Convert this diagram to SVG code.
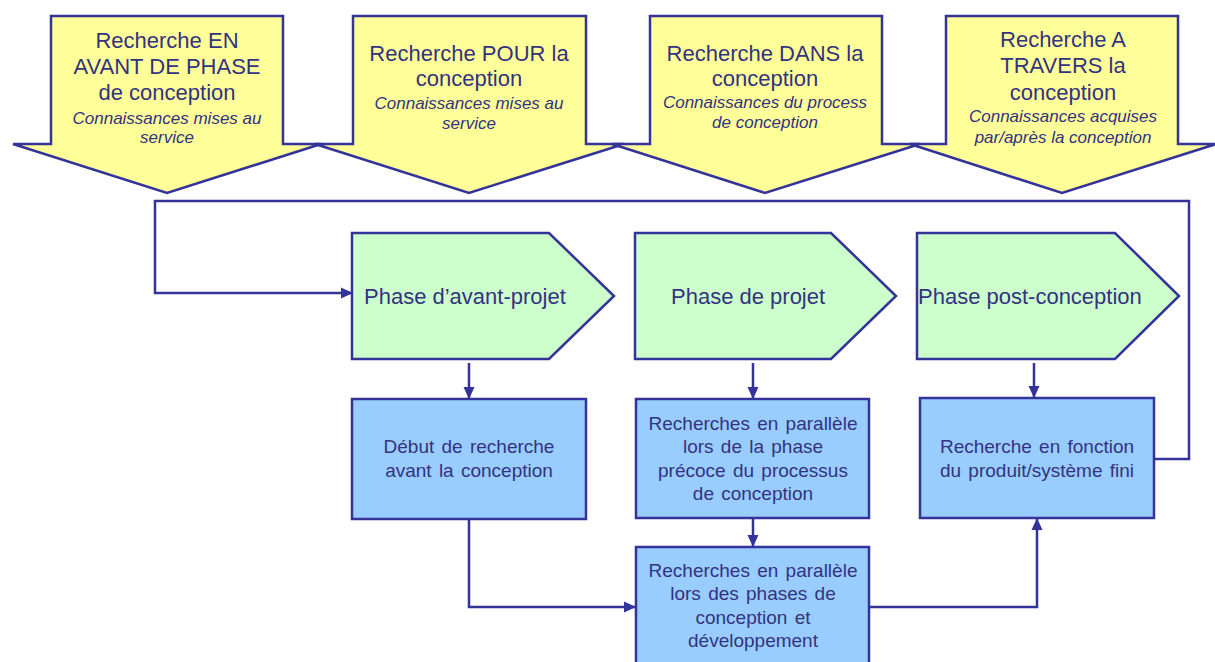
<svg xmlns="http://www.w3.org/2000/svg" width="1215" height="662" viewBox="0 0 1215 662">
<style>
.yel{fill:#FFFF99;stroke:#333399;stroke-width:2.5;stroke-linejoin:miter}
.grn{fill:#CCFFCC;stroke:#333399;stroke-width:2.5}
.blu{fill:#99CCFF;stroke:#333399;stroke-width:2.5}
.t{font-family:"Liberation Sans",Arial,sans-serif;fill:#333380}
.h{font-size:22px;text-anchor:middle}
.i{font-size:17px;font-style:italic;text-anchor:middle}
.p{font-size:22px}
.b{font-size:19px;text-anchor:middle;word-spacing:2px}
.c{fill:none;stroke:#333399;stroke-width:2.5}
</style>
<defs>
<marker id="ah" markerWidth="12" markerHeight="12" refX="11" refY="6" orient="auto" markerUnits="userSpaceOnUse">
<path d="M0,0.5 L12,6 L0,11.5 Z" fill="#333399"/>
</marker>
</defs>
<g id="arrow1">
<path class="yel" d="M51,16 L283,16 L283,144 L321,144 L167,193 L13,144 L51,144 Z"/>
<text class="t h" x="167" y="48">Recherche EN</text>
<text class="t h" x="167" y="74">AVANT DE PHASE</text>
<text class="t h" x="167" y="100">de conception</text>
<text class="t i" x="167" y="124">Connaissances mises au</text>
<text class="t i" x="167" y="143">service</text>
</g>
<g id="arrow2">
<path class="yel" d="M353,16 L586,16 L586,144 L624,144 L469,193 L315,144 L353,144 Z"/>
<text class="t h" x="469" y="61">Recherche POUR la</text>
<text class="t h" x="469" y="86">conception</text>
<text class="t i" x="469" y="109">Connaissances mises au</text>
<text class="t i" x="469" y="129">service</text>
</g>
<g id="arrow3">
<path class="yel" d="M650,16 L882,16 L882,144 L920,144 L765,193 L612,144 L650,144 Z"/>
<text class="t h" x="765" y="61">Recherche DANS la</text>
<text class="t h" x="765" y="86">conception</text>
<text class="t i" x="765" y="108">Connaissances du process</text>
<text class="t i" x="765" y="128">de conception</text>
</g>
<g id="arrow4">
<path class="yel" d="M946,16 L1178,16 L1178,144 L1216,144 L1062,193 L910,144 L946,144 Z"/>
<text class="t h" x="1063" y="47">Recherche A</text>
<text class="t h" x="1063" y="73">TRAVERS la</text>
<text class="t h" x="1063" y="100">conception</text>
<text class="t i" x="1063" y="122">Connaissances acquises</text>
<text class="t i" x="1063" y="143">par/après la conception</text>
</g>
<g id="connectors">
<path class="c" d="M1154,459 L1189,459 L1189,201 L155,201 L155,293 L352,293" marker-end="url(#ah)"/>
<path class="c" d="M469,363 L469,398" marker-end="url(#ah)"/>
<path class="c" d="M753,363 L753,398" marker-end="url(#ah)"/>
<path class="c" d="M1034,363 L1034,397" marker-end="url(#ah)"/>
<path class="c" d="M753,518 L753,546" marker-end="url(#ah)"/>
<path class="c" d="M469,519 L469,607 L635,607" marker-end="url(#ah)"/>
<path class="c" d="M869,607 L1037,607 L1037,519" marker-end="url(#ah)"/>
</g>
<g id="phase1">
<path class="grn" d="M352,233 L549,233 L614,296 L549,359 L352,359 Z"/>
<text class="t p" x="364" y="304">Phase d’avant-projet</text>
</g>
<g id="phase2">
<path class="grn" d="M635,233 L831,233 L896,296 L831,359 L635,359 Z"/>
<text class="t p" x="671" y="304">Phase de projet</text>
</g>
<g id="phase3">
<path class="grn" d="M917,233 L1115,233 L1179,296 L1115,359 L917,359 Z"/>
<text class="t p" x="918" y="304">Phase post-conception</text>
</g>
<g id="box1">
<rect class="blu" x="352" y="399" width="234" height="120"/>
<text class="t b" x="469" y="453">Début de recherche</text>
<text class="t b" x="469" y="477">avant la conception</text>
</g>
<g id="box2">
<rect class="blu" x="636" y="399" width="233" height="119"/>
<text class="t b" x="753" y="430">Recherches en parallèle</text>
<text class="t b" x="753" y="453">lors de la phase</text>
<text class="t b" x="753" y="477">précoce du processus</text>
<text class="t b" x="753" y="500">de conception</text>
</g>
<g id="box3">
<rect class="blu" x="920" y="398" width="234" height="120"/>
<text class="t b" x="1037" y="453">Recherche en fonction</text>
<text class="t b" x="1037" y="477">du produit/système fini</text>
</g>
<g id="box4">
<rect class="blu" x="636" y="547" width="233" height="130"/>
<text class="t b" x="753" y="577">Recherches en parallèle</text>
<text class="t b" x="753" y="600">lors des phases de</text>
<text class="t b" x="753" y="624">conception et</text>
<text class="t b" x="753" y="647">développement</text>
</g>
</svg>
